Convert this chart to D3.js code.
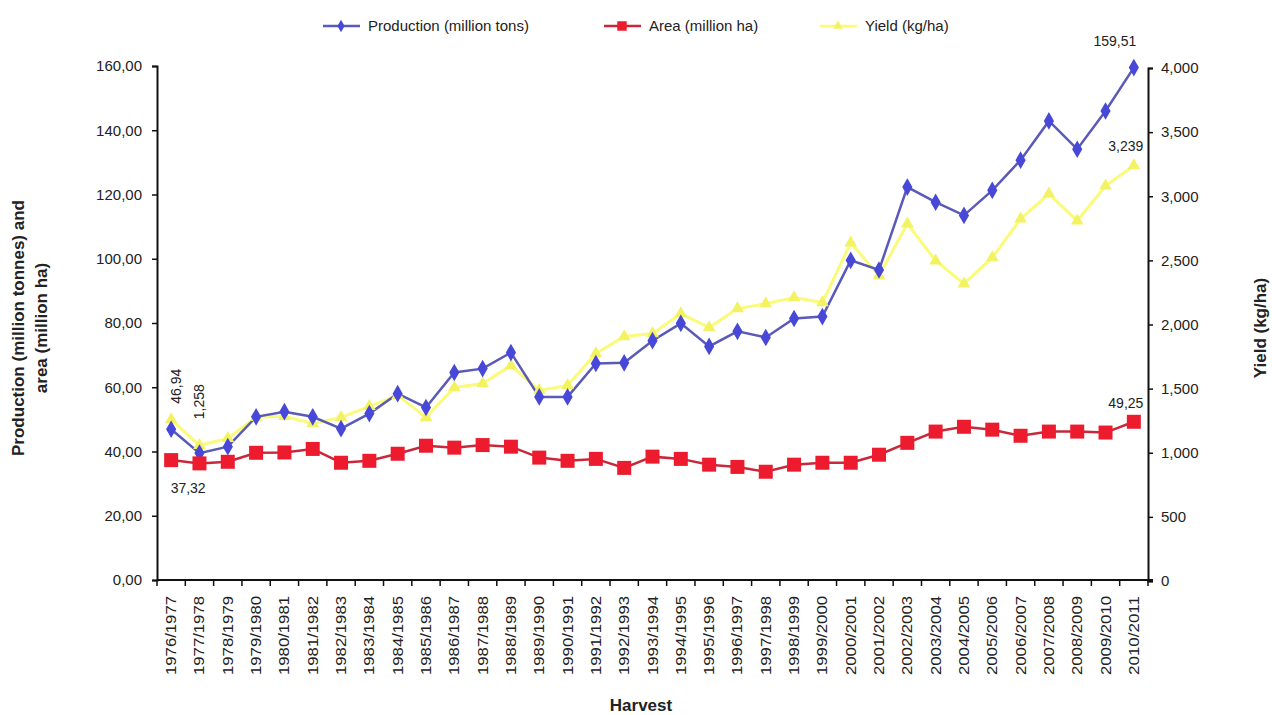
<!DOCTYPE html>
<html>
<head>
<meta charset="utf-8">
<script src="https://cdn.jsdelivr.net/npm/d3@7"></script>
<style>
  body { margin: 0; background: #fff; }
  text { font-family: "Liberation Sans", Arial, sans-serif; fill: #222; }
</style>
</head>
<body>
<div id="chart"></div>
<script>
// harvest years
var harvests = ["1976/1977","1977/1978","1978/1979","1979/1980","1980/1981","1981/1982","1982/1983",
  "1983/1984","1984/1985","1985/1986","1986/1987","1987/1988","1988/1989","1989/1990","1990/1991",
  "1991/1992","1992/1993","1993/1994","1994/1995","1995/1996","1996/1997","1997/1998","1998/1999",
  "1999/2000","2000/2001","2001/2002","2002/2003","2003/2004","2004/2005","2005/2006","2006/2007",
  "2007/2008","2008/2009","2009/2010","2010/2011"];

// million tons
var production = [46.94, 39.5, 41.5, 50.8, 52.4, 50.8, 47.1, 51.8, 58.0, 53.7, 64.6, 65.8, 70.8, 57.0,
  57.0, 67.4, 67.6, 74.5, 79.9, 72.7, 77.4, 75.5, 81.4, 82.0, 99.5, 96.5, 122.3, 117.6, 113.5, 121.3,
  130.7, 142.9, 134.1, 146.0, 159.51];

// million ha
var area = [37.32, 36.3, 36.8, 39.6, 39.7, 40.8, 36.5, 37.1, 39.3, 41.8, 41.2, 42.0, 41.5, 38.1, 37.1,
  37.7, 34.9, 38.4, 37.7, 35.9, 35.2, 33.7, 35.9, 36.5, 36.5, 39.0, 42.7, 46.2, 47.7, 46.8, 44.9, 46.2,
  46.2, 45.9, 49.25];

// kg/ha
var yieldKg = [1258, 1058, 1112, 1276, 1284, 1229, 1276, 1361, 1447, 1276, 1509, 1540, 1680, 1486,
  1525, 1774, 1906, 1929, 2085, 1976, 2124, 2163, 2210, 2171, 2637, 2381, 2785, 2497, 2318, 2521,
  2824, 3019, 2809, 3081, 3239];

var leftTicks = [0, 20, 40, 60, 80, 100, 120, 140, 160];
var rightTicks = [0, 500, 1000, 1500, 2000, 2500, 3000, 3500, 4000];

var W = 1272, H = 715;
var pLeft = 157, pRight = 1148, pTop = 66, pBottom = 580;

var svg = d3.select("#chart").append("svg")
  .attr("width", W).attr("height", H);

var x = d3.scaleBand().domain(harvests).range([pLeft, pRight]);
var yL = d3.scaleLinear().domain([0, 160]).range([pBottom, pTop]);
var yR = d3.scaleLinear().domain([0, 4000]).range([pBottom + 1, pTop + 2]);

function cx(i) { return x(harvests[i]) + x.bandwidth() / 2; }

function commaNum(v, d) {
  return d3.format("." + d + "f")(v).replace(".", ",");
}

// left axis
var axL = svg.append("g").attr("transform", "translate(" + pLeft + ",0)")
  .call(d3.axisLeft(yL).tickValues(leftTicks).tickSize(5).tickPadding(10)
    .tickFormat(function (d) { return commaNum(d, 2); }));
axL.selectAll("text").style("font-size", "15px").attr("fill", "#333")
  .style("font-family", "Liberation Sans, Arial, sans-serif");

// right axis
var axR = svg.append("g").attr("transform", "translate(" + pRight + ",0)")
  .call(d3.axisRight(yR).tickValues(rightTicks).tickSize(5).tickPadding(8)
    .tickFormat(d3.format(",")));
axR.selectAll("text").style("font-size", "15px").attr("fill", "#333")
  .style("font-family", "Liberation Sans, Arial, sans-serif");

// bottom axis, ticks between categories
var axB = svg.append("g").attr("transform", "translate(0," + pBottom + ")");
axB.append("line").attr("x1", pLeft).attr("x2", pRight + 5)
  .attr("stroke", "#111").attr("stroke-width", 2);
axB.selectAll(".tk").data(harvests.concat(["end"]))
  .enter().append("line")
  .attr("x1", function (d, i) { return pLeft + i * x.bandwidth(); })
  .attr("x2", function (d, i) { return pLeft + i * x.bandwidth(); })
  .attr("y1", 0).attr("y2", 6)
  .attr("stroke", "#111").attr("stroke-width", 1.5);
// labels look stretched in the original, so force a length
axB.selectAll(".lbl").data(harvests)
  .enter().append("text")
  .attr("transform", function (d) {
    return "translate(" + (x(d) + x.bandwidth() / 2 + 5) + ",16) rotate(-90)";
  })
  .attr("text-anchor", "end")
  .attr("textLength", 79)
  .attr("lengthAdjust", "spacingAndGlyphs")
  .style("font-size", "14px")
  .attr("fill", "#333")
  .text(function (d) { return d; });

svg.selectAll(".domain").attr("stroke", "#111").attr("stroke-width", 2);
svg.selectAll(".tick line").attr("stroke", "#111").attr("stroke-width", 1.5);

// lines
var lineP = d3.line().x(function (d, i) { return cx(i); }).y(function (d) { return yL(d); });
var lineY = d3.line().x(function (d, i) { return cx(i); }).y(function (d) { return yR(d); });

svg.append("path").datum(yieldKg).attr("d", lineY)
  .attr("fill", "none").attr("stroke", "#fbfb7a").attr("stroke-width", 3);
svg.append("path").datum(production).attr("d", lineP)
  .attr("fill", "none").attr("stroke", "#5a5ab8").attr("stroke-width", 2.5);
svg.append("path").datum(area).attr("d", lineP)
  .attr("fill", "none").attr("stroke", "#c8283a").attr("stroke-width", 2.5);

// markers
var tri = d3.symbol().type(d3.symbolTriangle).size(70);
svg.selectAll(".my").data(yieldKg).enter().append("path")
  .attr("d", tri)
  .attr("transform", function (d, i) { return "translate(" + cx(i) + "," + yR(d) + ")"; })
  .attr("fill", "#f2f262");

var dia = d3.symbol().type(d3.symbolDiamond).size(90);
svg.selectAll(".mp").data(production).enter().append("path")
  .attr("d", dia)
  .attr("transform", function (d, i) { return "translate(" + cx(i) + "," + yL(d) + ")"; })
  .attr("fill", "#4848d8");

svg.selectAll(".ma").data(area).enter().append("rect")
  .attr("x", function (d, i) { return cx(i) - 7; })
  .attr("y", function (d) { return yL(d) - 7; })
  .attr("width", 14).attr("height", 14)
  .attr("fill", "#ec1c2e");

// data labels
var n = harvests.length - 1;
svg.append("text").attr("transform", "translate(" + (cx(0) + 10) + "," + (yL(production[0]) - 43) + ") rotate(-90)")
  .attr("text-anchor", "middle").style("font-size", "14px").attr("fill", "#333")
  .text(commaNum(production[0], 2));
svg.append("text").attr("transform", "translate(" + (cx(1) + 5) + "," + (yR(yieldKg[0]) - 18) + ") rotate(-90)")
  .attr("text-anchor", "middle").style("font-size", "14px").attr("fill", "#333")
  .text(d3.format(",")(yieldKg[0]));
svg.append("text").attr("x", cx(0) + 17).attr("y", yL(area[0]) + 33)
  .attr("text-anchor", "middle").style("font-size", "14px").attr("fill", "#333")
  .text(commaNum(area[0], 2));
svg.append("text").attr("x", cx(n) - 19).attr("y", yL(production[n]) - 22)
  .attr("text-anchor", "middle").style("font-size", "14px").attr("fill", "#333")
  .text(commaNum(production[n], 2));
svg.append("text").attr("x", cx(n) - 8).attr("y", yR(yieldKg[n]) - 15)
  .attr("text-anchor", "middle").style("font-size", "14px").attr("fill", "#333")
  .text(d3.format(",")(yieldKg[n]));
svg.append("text").attr("x", cx(n) - 8).attr("y", yL(area[n]) - 14)
  .attr("text-anchor", "middle").style("font-size", "14px").attr("fill", "#333")
  .text(commaNum(area[n], 2));

// axis titles
svg.append("text").attr("transform", "translate(24,328) rotate(-90)")
  .attr("text-anchor", "middle").style("font-size", "17px").style("font-weight", "bold")
  .text("Production (million tonnes) and");
svg.append("text").attr("transform", "translate(47,328) rotate(-90)")
  .attr("text-anchor", "middle").style("font-size", "17px").style("font-weight", "bold")
  .text("area (million ha)");
svg.append("text").attr("transform", "translate(1266,328) rotate(-90)")
  .attr("text-anchor", "middle").style("font-size", "17px").style("font-weight", "bold")
  .text("Yield (kg/ha)");
svg.append("text").attr("x", 641).attr("y", 711)
  .attr("text-anchor", "middle").style("font-size", "17px").style("font-weight", "bold")
  .text("Harvest");

// legend
var legend = [
  { name: "Production (million tons)", x: 323, color: "#5a5ab8", mk: "dia", mc: "#4848d8" },
  { name: "Area (million ha)", x: 604, color: "#c8283a", mk: "sq", mc: "#ec1c2e" },
  { name: "Yield (kg/ha)", x: 820, color: "#fbfb7a", mk: "tri", mc: "#f2f262" }
];
var lg = svg.selectAll(".lg").data(legend).enter().append("g")
  .attr("transform", function (d) { return "translate(" + d.x + ",26)"; });
lg.append("line").attr("x1", 0).attr("x2", 37)
  .attr("stroke", function (d) { return d.color; }).attr("stroke-width", 2.5);
lg.append("path")
  .attr("d", function (d) {
    if (d.mk == "dia") return d3.symbol().type(d3.symbolDiamond).size(45)();
    if (d.mk == "tri") return d3.symbol().type(d3.symbolTriangle).size(40)();
    return d3.symbol().type(d3.symbolSquare).size(90)();
  })
  .attr("transform", "translate(18,0)")
  .attr("fill", function (d) { return d.mc; });
lg.append("text").attr("x", 45).attr("y", 5)
  .style("font-size", "15px").attr("fill", "#333")
  .text(function (d) { return d.name; });
</script>
</body>
</html>
